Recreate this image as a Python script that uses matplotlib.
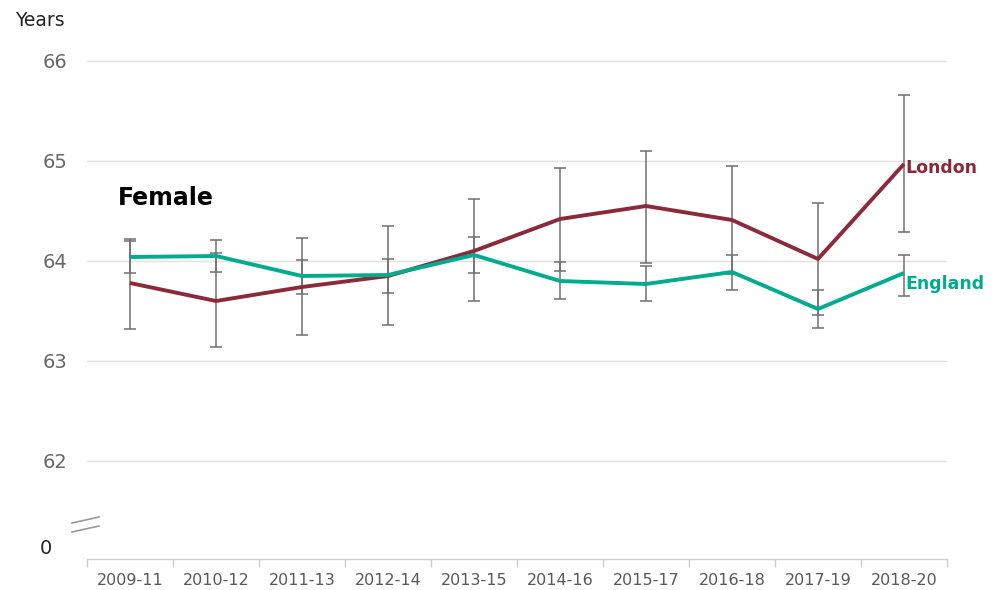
import matplotlib.pyplot as plt
import numpy as np
from matplotlib.lines import Line2D

periods = ["2009-11", "2010-12", "2011-13", "2012-14", "2013-15",
           "2014-16", "2015-17", "2016-18", "2017-19", "2018-20"]

london = [63.78, 63.60, 63.74, 63.85, 64.10, 64.42, 64.55, 64.41, 64.02, 64.97]
london_lo = [63.32, 63.14, 63.26, 63.36, 63.60, 63.90, 63.98, 63.87, 63.46, 64.29]
london_hi = [64.22, 64.08, 64.23, 64.35, 64.62, 64.93, 65.10, 64.95, 64.58, 65.66]

england = [64.04, 64.05, 63.85, 63.86, 64.06, 63.80, 63.77, 63.89, 63.52, 63.88]
england_lo = [63.88, 63.89, 63.67, 63.68, 63.88, 63.62, 63.60, 63.71, 63.33, 63.65]
england_hi = [64.20, 64.21, 64.01, 64.02, 64.24, 63.99, 63.95, 64.06, 63.71, 64.06]

yticks = [62, 63, 64, 65, 66]

london_col = "#8b2a3b"
england_col = "#00ab8e"
grey_txt = "#666666"

fig = plt.figure(figsize=(9.97, 5.90), dpi=100)
ax = fig.add_axes([87 / 997, 31 / 590, 860 / 997, 519 / 590])

x = np.arange(len(periods))

# gridlines
for v in yticks:
    ax.axhline(v, color="#e0e0e0", lw=1, zorder=0)

def draw(vals, lo, hi, col):
    vals = np.array(vals)
    err = [vals - np.array(lo), np.array(hi) - vals]
    ax.errorbar(x, vals, yerr=err, fmt="none", ecolor="#707070",
                elinewidth=1.1, capsize=4, capthick=1.1, zorder=2)
    ax.plot(x, vals, color=col, lw=2.8, zorder=3, solid_capstyle="butt")

draw(london, london_lo, london_hi, london_col)
draw(england, england_lo, england_hi, england_col)

ax.text(x[-1] + 0.02, london[-1] - 0.04, "London", color=london_col,
        fontsize=12.5, fontweight="bold", va="center", ha="left", zorder=4)
ax.text(x[-1] + 0.02, england[-1] - 0.11, "England", color=england_col,
        fontsize=12.5, fontweight="bold", va="center", ha="left", zorder=4)

ax.set_xlim(-0.5, len(periods) - 0.5)
ax.set_ylim(61.02, 66.21)

ax.set_yticks(yticks)
ax.set_yticklabels([str(v) for v in yticks], color=grey_txt, fontsize=14)
ax.tick_params(axis="y", length=0, pad=14.4)

ax.set_xticks(x)
ax.set_xticklabels(periods, color="#595959", fontsize=11.5)
ax.set_xticks(np.arange(-0.5, len(periods)), minor=True)
ax.tick_params(axis="x", which="major", length=0, pad=10)
ax.tick_params(axis="x", which="minor", length=6, color="#cccccc", width=1)

for s in ["top", "right", "left"]:
    ax.spines[s].set_visible(False)
ax.spines["bottom"].set_color("#d0d0d0")
ax.spines["bottom"].set_linewidth(1)

# "0" baseline label and axis break marks
fig.text(52 / 997, 1 - 549 / 590, "0", fontsize=14, color="#222222",
         ha="right", va="center")
for dy in (0, 9):
    fig.add_artist(Line2D([72 / 997, 99 / 997],
                          [1 - (523 + dy) / 590, 1 - (517 + dy) / 590],
                          color="#999999", lw=1.2))

fig.text(15 / 997, 1 - 20 / 590, "Years", fontsize=13.5, color="#222222",
         ha="left", va="center")
fig.text(118 / 997, 1 - 198 / 590, "Female", fontsize=17, fontweight="bold",
         color="black", ha="left", va="center")

fig.savefig("out.png", dpi=100)
